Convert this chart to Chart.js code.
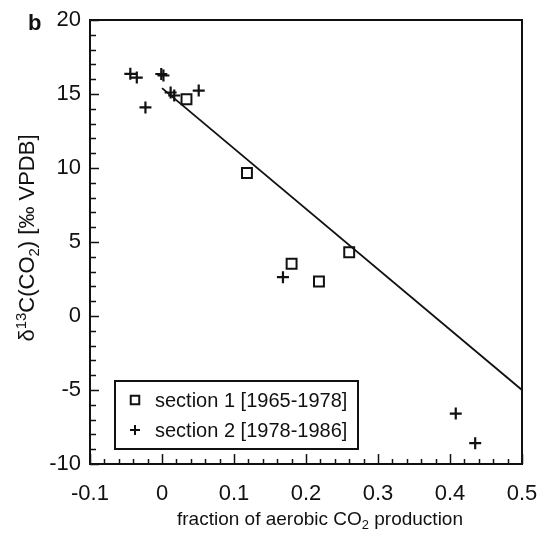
<!DOCTYPE html>
<html>
<head>
<meta charset="utf-8">
<script src="https://cdn.jsdelivr.net/npm/chart.js@4/dist/chart.umd.min.js"></script>
<style>
  html, body { margin: 0; padding: 0; background: #fff; }
  #wrap { width: 539px; height: 537px; }
</style>
</head>
<body>
<div id="wrap"><canvas id="fig"></canvas></div>
<script>
'use strict';

// Data
const section1X = [0.034, 0.118, 0.180, 0.218, 0.260];
const section1Y = [14.65, 9.66, 3.53, 2.33, 4.31];

const section2X = [-0.044, -0.035, -0.001, 0.002, -0.023, 0.012, 0.017, 0.051, 0.168, 0.408, 0.435];
const section2Y = [16.36, 16.11, 16.35, 16.25, 14.09, 15.10, 14.90, 15.23, 2.62, -6.59, -8.59];

const fitX = [0.0, 0.5];
const fitY = [15.4, -5.0];

const xTicks = [-0.1, 0, 0.1, 0.2, 0.3, 0.4, 0.5];
const yTicks = [-10, -5, 0, 5, 10, 15, 20];

const seriesLabels = ['section 1 [1965-1978]', 'section 2 [1978-1986]'];

const FONT = '"Liberation Sans", Arial, Helvetica, sans-serif';
const ink = '#111';

function toPoints(xs, ys) {
  return xs.map(function (x, i) { return { x: x, y: ys[i] }; });
}

// draw a string made of pieces, some raised or lowered
function drawRich(ctx, parts, size, cx, baseY) {
  let total = 0;
  parts.forEach(function (p) {
    ctx.font = (p.s ? size * 0.68 : size) + 'px ' + FONT;
    p.w = ctx.measureText(p.t).width;
    total += p.w;
  });
  let x = cx - total / 2;
  ctx.textAlign = 'left';
  ctx.textBaseline = 'alphabetic';
  parts.forEach(function (p) {
    ctx.font = (p.s ? size * 0.68 : size) + 'px ' + FONT;
    let dy = 0;
    if (p.s === 'sup') dy = -size * 0.38;
    if (p.s === 'sub') dy = size * 0.22;
    ctx.fillText(p.t, x, baseY + dy);
    x += p.w;
  });
}

// Frame, inward ticks, axis titles, legend box
const decorPlugin = {
  id: 'decor',
  afterDraw: function (chart) {
    const ctx = chart.ctx;
    const a = chart.chartArea;
    const xs = chart.scales.x, ys = chart.scales.y;
    ctx.save();
    ctx.strokeStyle = ink;
    ctx.fillStyle = ink;

    // ticks
    ctx.lineWidth = 1.5;
    ctx.beginPath();
    for (let i = 0; i <= 30; i++) {
      const v = -10 + i;
      const py = Math.round(ys.getPixelForValue(v)) + 0.5;
      const len = v % 5 === 0 ? 9 : 6;
      ctx.moveTo(a.left, py);
      ctx.lineTo(a.left + len, py);
    }
    for (let i = 0; i <= 30; i++) {
      const v = -0.1 + i * 0.02;
      const px = Math.round(xs.getPixelForValue(v)) + 0.5;
      const len = i % 5 === 0 ? 10 : 5;
      ctx.moveTo(px, a.bottom);
      ctx.lineTo(px, a.bottom - len);
    }
    ctx.stroke();

    // frame
    ctx.lineWidth = 2;
    ctx.strokeRect(a.left, a.top, a.right - a.left, a.bottom - a.top);

    // x title
    drawRich(ctx, [
      { t: 'fraction of aerobic CO' }, { t: '2', s: 'sub' }, { t: ' production' }
    ], 19, 320, 525);

    // y title
    ctx.save();
    ctx.translate(34, (a.top + a.bottom) / 2 - 4);
    ctx.rotate(-Math.PI / 2);
    drawRich(ctx, [
      { t: 'δ' }, { t: '13', s: 'sup' }, { t: 'C(CO' }, { t: '2', s: 'sub' }, { t: ') [‰ VPDB]' }
    ], 22, 0, 0);
    ctx.restore();

    // panel letter
    ctx.font = 'bold 22px ' + FONT;
    ctx.textAlign = 'left';
    ctx.textBaseline = 'alphabetic';
    ctx.fillText('b', 28, 30);

    // legend
    const bx = 115, by = 381, bw = 243, bh = 68;
    ctx.fillStyle = '#fff';
    ctx.fillRect(bx, by, bw, bh);
    ctx.lineWidth = 2;
    ctx.strokeRect(bx, by, bw, bh);
    ctx.font = '20px ' + FONT;
    ctx.textBaseline = 'middle';
    chart.data.datasets.slice(0, 2).forEach(function (ds, i) {
      const rowY = by + 19 + i * 30;
      ctx.fillStyle = 'rgba(0,0,0,0)';
      ctx.strokeStyle = ink;
      Chart.helpers.drawPoint(ctx, {
        pointStyle: ds.pointStyle,
        radius: ds.pointStyle === 'rect' ? 6 : 5,
        borderWidth: 1.8
      }, bx + 20, rowY);
      ctx.fillStyle = ink;
      ctx.fillText(ds.label, bx + 40, rowY + 1);
    });
    ctx.restore();
  }
};

new Chart(document.getElementById('fig'), {
  type: 'scatter',
  data: {
    datasets: [
      {
        label: seriesLabels[0],
        data: toPoints(section1X, section1Y),
        pointStyle: 'rect',
        pointRadius: 7,
        pointBorderWidth: 2,
        pointBackgroundColor: 'rgba(0,0,0,0)',
        pointBorderColor: ink
      },
      {
        label: seriesLabels[1],
        data: toPoints(section2X, section2Y),
        pointStyle: 'cross',
        pointRadius: 6,
        pointBorderWidth: 2.2,
        pointBorderColor: ink
      },
      {
        label: 'fit',
        type: 'line',
        data: toPoints(fitX, fitY),
        borderColor: ink,
        borderWidth: 1.8,
        pointRadius: 0,
        fill: false
      }
    ]
  },
  options: {
    responsive: true,
    maintainAspectRatio: false,
    animation: false,
    events: [],
    layout: {
      padding: { top: 20, right: 17, left: 0, bottom: 0 }
    },
    plugins: {
      legend: { display: false },
      tooltip: { enabled: false }
    },
    scales: {
      x: {
        type: 'linear',
        min: -0.1,
        max: 0.5,
        afterFit: function (scale) {
          scale.height = 73;
          scale.paddingLeft = 16;
          scale.paddingRight = 16;
        },
        afterBuildTicks: function (scale) {
          scale.ticks = xTicks.map(function (v) { return { value: v }; });
        },
        grid: { display: false, drawTicks: false },
        border: { display: false },
        ticks: {
          color: ink,
          padding: 17,
          maxRotation: 0,
          autoSkip: false,
          font: { family: FONT, size: 22 },
          callback: function (v) { return v === 0 ? '0' : v.toFixed(1); }
        }
      },
      y: {
        type: 'linear',
        min: -10,
        max: 20,
        afterFit: function (scale) {
          scale.width = 90;
          scale.paddingTop = 12;
          scale.paddingBottom = 12;
        },
        afterBuildTicks: function (scale) {
          scale.ticks = yTicks.map(function (v) { return { value: v }; });
        },
        grid: { display: false, drawTicks: false },
        border: { display: false },
        ticks: {
          color: ink,
          padding: 9,
          autoSkip: false,
          font: { family: FONT, size: 22 }
        }
      }
    }
  },
  plugins: [decorPlugin]
});
</script>
</body>
</html>
